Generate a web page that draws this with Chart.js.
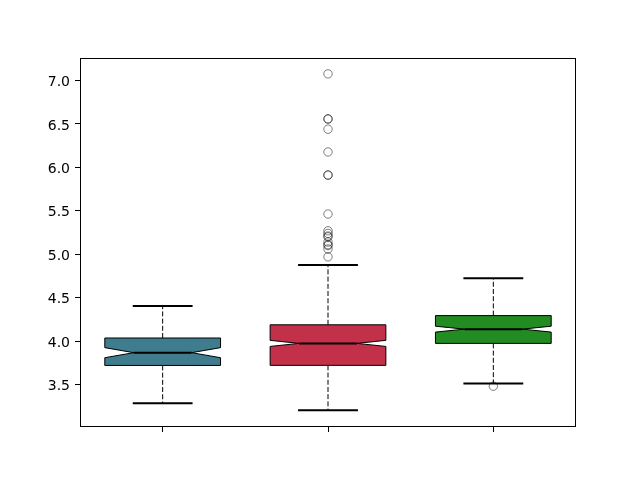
<!DOCTYPE html>
<html>
<head>
<meta charset="utf-8">
<script src="https://cdn.jsdelivr.net/npm/chart.js@4"></script>
<style>
  html, body { margin: 0; padding: 0; background: #fff; }
  #wrap { width: 640px; height: 480px; }
</style>
</head>
<body>
<div id="wrap"><canvas id="boxChart" width="640" height="480"></canvas></div>
<script>
    // box positions and their summary stats
    const positions   = [1, 2, 3];
    const boxColors   = ['#3f7c8e', '#c3304a', '#228b22'];
    const whiskerLow  = [3.284, 3.202, 3.51];
    const q1Values    = [3.719, 3.72, 3.973];
    const notchLow    = [3.808, 3.938, 4.103];
    const medians     = [3.866, 3.973, 4.137];
    const notchHigh   = [3.924, 4.008, 4.171];
    const q3Values    = [4.035, 4.187, 4.293];
    const whiskerHigh = [4.403, 4.875, 4.724];

    // fliers
    const outliers1 = [];
    const outliers2 = [7.077, 6.56, 6.555, 6.44, 6.178, 5.913, 5.91, 5.463,
                       5.27, 5.24, 5.21, 5.2, 5.14, 5.11, 5.1, 5.06, 4.97];
    const outliers3 = [3.48];

    const yTicks = [3.5, 4.0, 4.5, 5.0, 5.5, 6.0, 6.5, 7.0];

    const BOX_HALF = 0.35;
    const NOTCH_HALF = 0.175;
    const CAP_HALF = 0.175;

    // ---------------- Plugin: notched boxes ----------------
    const boxPlugin = {
        id: 'notchedBoxes',
        beforeDatasetsDraw(chart) {
            const ctx = chart.ctx;
            const xs = chart.scales.x, ys = chart.scales.y;
            const area = chart.chartArea;
            ctx.save();
            ctx.beginPath();
            ctx.rect(area.left, area.top, area.right - area.left, area.bottom - area.top);
            ctx.clip();

            positions.forEach((pos, i) => {
                const cx = xs.getPixelForValue(pos);
                const l = xs.getPixelForValue(pos - BOX_HALF);
                const r = xs.getPixelForValue(pos + BOX_HALF);
                const nl = xs.getPixelForValue(pos - NOTCH_HALF);
                const nr = xs.getPixelForValue(pos + NOTCH_HALF);
                const cl = xs.getPixelForValue(pos - CAP_HALF);
                const cr = xs.getPixelForValue(pos + CAP_HALF);
                const yq1 = ys.getPixelForValue(q1Values[i]);
                const yq3 = ys.getPixelForValue(q3Values[i]);
                const ynl = ys.getPixelForValue(notchLow[i]);
                const ynh = ys.getPixelForValue(notchHigh[i]);
                const ym = ys.getPixelForValue(medians[i]);
                const ywl = ys.getPixelForValue(whiskerLow[i]);
                const ywh = ys.getPixelForValue(whiskerHigh[i]);

                // whiskers
                ctx.strokeStyle = '#000';
                ctx.lineWidth = 1;
                ctx.setLineDash([5, 2.2]);
                ctx.beginPath();
                ctx.moveTo(cx, yq1); ctx.lineTo(cx, ywl);
                ctx.moveTo(cx, yq3); ctx.lineTo(cx, ywh);
                ctx.stroke();
                ctx.setLineDash([]);

                // caps
                ctx.lineWidth = 2;
                ctx.lineCap = 'square';
                ctx.beginPath();
                ctx.moveTo(cl, ywl); ctx.lineTo(cr, ywl);
                ctx.moveTo(cl, ywh); ctx.lineTo(cr, ywh);
                ctx.stroke();
                ctx.lineCap = 'butt';

                // notched box
                ctx.beginPath();
                ctx.moveTo(l, yq1);
                ctx.lineTo(r, yq1);
                ctx.lineTo(r, ynl);
                ctx.lineTo(nr, ym);
                ctx.lineTo(r, ynh);
                ctx.lineTo(r, yq3);
                ctx.lineTo(l, yq3);
                ctx.lineTo(l, ynh);
                ctx.lineTo(nl, ym);
                ctx.lineTo(l, ynl);
                ctx.closePath();
                ctx.fillStyle = boxColors[i];
                ctx.fill();
                ctx.lineWidth = 1;
                ctx.lineJoin = 'miter';
                ctx.stroke();

                // median
                ctx.lineWidth = 2;
                ctx.beginPath();
                ctx.moveTo(nl, ym); ctx.lineTo(nr, ym);
                ctx.stroke();
            });
            ctx.restore();
        },
        afterDraw(chart) {
            // full frame round the axes
            const a = chart.chartArea, ctx = chart.ctx;
            ctx.save();
            ctx.strokeStyle = '#000';
            ctx.lineWidth = 1;
            ctx.strokeRect(Math.round(a.left) + 0.5, Math.round(a.top) + 0.5,
                           Math.round(a.right - a.left) - 1, Math.round(a.bottom - a.top) - 1);
            ctx.restore();
        }
    };

    const flierSets = [outliers1, outliers2, outliers3];
    const flierPoints = [];
    flierSets.forEach((vals, i) => vals.forEach(v => flierPoints.push({ x: positions[i], y: v })));

    const ctx = document.getElementById('boxChart').getContext('2d');
    new Chart(ctx, {
        type: 'scatter',
        data: {
            datasets: [{
                label: 'fliers',
                data: flierPoints,
                pointStyle: 'circle',
                pointRadius: 4.2,
                backgroundColor: 'rgba(0,0,0,0)',
                borderColor: 'rgba(0,0,0,0.5)',
                borderWidth: 1
            }]
        },
        options: {
            responsive: false,
            animation: false,
            events: [],
            layout: { padding: { top: 58, right: 64, left: 0, bottom: 0 } },
            plugins: { legend: { display: false }, tooltip: { enabled: false } },
            scales: {
                x: {
                    type: 'linear',
                    min: 0.5, max: 3.5,
                    afterBuildTicks: axis => { axis.ticks = positions.map(v => ({ value: v })); },
                    afterFit: axis => { axis.height = 53; },
                    ticks: { callback: () => '', padding: 0 },
                    grid: { drawOnChartArea: false, drawTicks: true, tickLength: 5, color: '#000' },
                    border: { display: false }
                },
                y: {
                    min: 3.01, max: 7.26,
                    afterBuildTicks: axis => { axis.ticks = yTicks.map(v => ({ value: v })); },
                    afterFit: axis => { axis.width = 80; },
                    ticks: {
                        callback: v => v.toFixed(1),
                        color: '#000',
                        padding: 5,
                        labelOffset: 2,
                        font: { family: 'DejaVu Sans', size: 14 }
                    },
                    grid: { drawOnChartArea: false, drawTicks: true, tickLength: 5, color: '#000' },
                    border: { display: false }
                }
            }
        },
        plugins: [boxPlugin]
    });
</script>
</body>
</html>
